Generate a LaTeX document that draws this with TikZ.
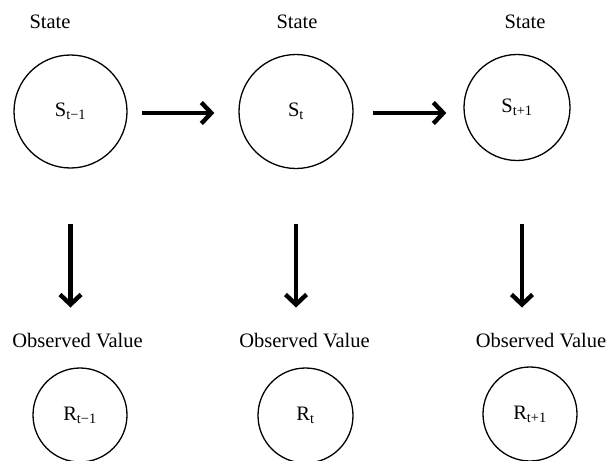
\documentclass[tikz,border=0pt]{standalone}
\usepackage{fontspec}
\setmainfont{Liberation Serif}
\usetikzlibrary{arrows.meta,calc}
\begin{document}
\begin{tikzpicture}[x=1pt,y=-1pt,
  lbl/.style={inner sep=0pt,font=\fontsize{20.5}{24}\selectfont},
  st/.style={circle,draw,line width=1.3pt,inner sep=0pt,font=\fontsize{20.5}{24}\selectfont},
  arr/.style={line width=4.6pt,-{Straight Barb[length=10pt,width=21pt,line width=4.4pt]}}]
\useasboundingbox (0,0) rectangle (607,460);
% titles
\node[lbl] (t1) at (50,22) {State};
\node[lbl] (t2) at (297,22) {State};
\node[lbl] (t3) at (525,22) {State};
% state circles
\node[st,minimum size=113pt] (s1) at (70.5,111.5) {S\textsubscript{t−1}};
\node[st,minimum size=114pt] (s2) at (296,111.5) {S\textsubscript{t}};
\node[st,minimum size=106pt] (s3) at (517,107.5) {S\textsubscript{t+1}};
% observed labels
\node[lbl] (o1) at (77.5,341) {Observed Value};
\node[lbl] (o2) at (304.5,341) {Observed Value};
\node[lbl] (o3) at (541,341) {Observed Value};
% observed circles
\node[st,minimum size=94pt] (r1) at (80,415) {R\textsubscript{t−1}};
\node[st,minimum size=95pt] (r2) at (305.5,415.5) {R\textsubscript{t}};
\node[st,minimum size=94pt] (r3) at (530,414) {R\textsubscript{t+1}};
% horizontal arrows
\draw[arr,shorten <=14pt,shorten >=24pt] ([yshift=-1.5pt]s1.east) -- ([yshift=-1.5pt]s1.east -| s2.west);
\draw[arr,shorten <=19pt,shorten >=17pt] ([yshift=-1.5pt]s2.east) -- ([yshift=-1.5pt]s2.east -| s3.west);
% vertical arrows
\draw[arr,shorten <=55pt,shorten >=26pt] (s1.south) -- (s1.south |- o1.north);
\draw[arr,shorten <=55pt,shorten >=26pt] (s2.south) -- (s2.south |- o2.north);
\draw[arr,shorten <=63pt,shorten >=26pt] ([xshift=5pt]s3.south) -- ([xshift=5pt]s3.south |- o3.north);
\end{tikzpicture}
\end{document}
